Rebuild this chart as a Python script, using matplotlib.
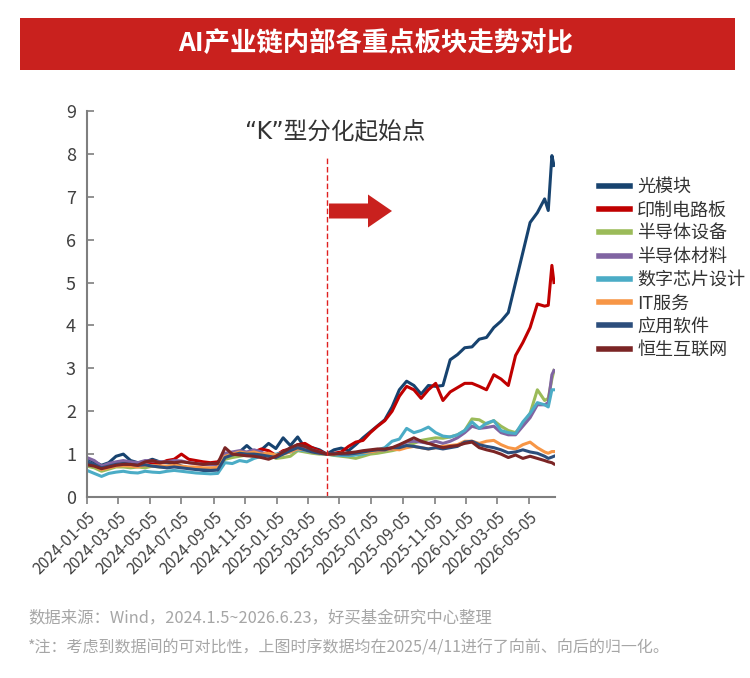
import matplotlib
matplotlib.use("Agg")
import matplotlib.pyplot as plt
import matplotlib.dates as mdates
from matplotlib.patches import Rectangle, FancyArrow
import pandas as pd

plt.rcParams['font.family'] = ['Noto Sans CJK SC', 'DejaVu Sans']

# biweekly points, last three weekly
dates = list(pd.date_range('2024-01-05', '2026-06-05', freq='14D')) + \
    [pd.Timestamp('2026-06-12'), pd.Timestamp('2026-06-19'), pd.Timestamp('2026-06-23')]

names = ['光模块', '印制电路板', '半导体设备', '半导体材料', '数字芯片设计', 'IT服务', '应用软件', '恒生互联网']
colors = ['#17436F', '#C00000', '#9BBB59', '#8064A2', '#4BACC6', '#F79646', '#2C4E7C', '#7B2525']

guangmokuai = [0.9, 0.82, 0.74, 0.8, 0.95, 1.0, 0.85, 0.8, 0.82, 0.88, 0.82, 0.8, 0.78, 0.72, 0.68, 0.66, 0.62,
               0.62, 0.64, 0.95, 1.02, 1.05, 1.2, 1.05, 1.1, 1.25, 1.13, 1.38, 1.2, 1.4, 1.15, 1.15, 1.1,
               1.0, 1.1, 1.14, 1.08, 1.22, 1.38, 1.52, 1.66, 1.8, 2.1, 2.5, 2.7, 2.6, 2.4, 2.6, 2.58, 2.6,
               3.2, 3.32, 3.48, 3.5, 3.68, 3.72, 3.95, 4.1, 4.3, 5.0, 5.7, 6.4, 6.63, 6.95, 6.68, 7.96, 7.73]
pcb = [0.78, 0.75, 0.68, 0.72, 0.76, 0.78, 0.8, 0.76, 0.82, 0.8, 0.78, 0.85, 0.88, 1.0, 0.88, 0.85, 0.82,
       0.8, 0.82, 1.0, 1.02, 0.98, 1.0, 1.05, 1.12, 1.08, 0.97, 1.08, 1.12, 1.22, 1.25, 1.15, 1.08,
       1.0, 1.02, 1.05, 1.18, 1.28, 1.32, 1.5, 1.65, 1.78, 2.0, 2.35, 2.58, 2.5, 2.3, 2.5, 2.65, 2.25,
       2.45, 2.55, 2.65, 2.65, 2.58, 2.5, 2.85, 2.75, 2.6, 3.3, 3.6, 3.95, 4.5, 4.45, 4.47, 5.4, 5.0]
semi_equip = [0.72, 0.68, 0.6, 0.65, 0.7, 0.7, 0.68, 0.7, 0.68, 0.72, 0.7, 0.7, 0.72, 0.7, 0.68, 0.66, 0.65,
              0.64, 0.66, 0.88, 0.92, 0.95, 0.98, 0.95, 0.98, 1.0, 0.9, 0.92, 0.95, 1.08, 1.05, 1.02, 1.0,
              1.0, 0.97, 0.95, 0.93, 0.9, 0.95, 1.0, 1.02, 1.05, 1.08, 1.12, 1.2, 1.25, 1.32, 1.35, 1.38, 1.37,
              1.4, 1.45, 1.55, 1.82, 1.8, 1.7, 1.78, 1.65, 1.55, 1.5, 1.7, 1.95, 2.5, 2.25, 2.3, 2.75, 2.95]
semi_mat = [0.92, 0.85, 0.72, 0.78, 0.82, 0.85, 0.82, 0.8, 0.85, 0.84, 0.82, 0.82, 0.85, 0.84, 0.8, 0.78, 0.76,
            0.75, 0.76, 1.02, 1.05, 1.08, 1.05, 1.1, 1.05, 0.95, 0.98, 1.05, 1.12, 1.2, 1.15, 1.1, 1.05,
            1.0, 1.0, 0.98, 0.97, 1.0, 1.02, 1.05, 1.08, 1.1, 1.12, 1.2, 1.28, 1.3, 1.28, 1.25, 1.3, 1.25,
            1.3, 1.38, 1.5, 1.65, 1.6, 1.62, 1.65, 1.5, 1.45, 1.45, 1.65, 1.85, 2.15, 2.15, 2.2, 2.85, 2.95]
chip_design = [0.62, 0.55, 0.48, 0.55, 0.58, 0.6, 0.57, 0.56, 0.6, 0.58, 0.57, 0.6, 0.62, 0.6, 0.58, 0.56, 0.55,
               0.54, 0.55, 0.8, 0.78, 0.85, 0.82, 0.9, 0.95, 0.97, 1.0, 1.02, 1.05, 1.1, 1.08, 1.05, 1.02,
               1.0, 0.98, 0.97, 0.96, 0.98, 1.0, 1.05, 1.1, 1.15, 1.3, 1.35, 1.6, 1.5, 1.55, 1.63, 1.5, 1.42,
               1.4, 1.45, 1.55, 1.75, 1.6, 1.72, 1.78, 1.55, 1.5, 1.48, 1.75, 1.95, 2.2, 2.15, 2.1, 2.5, 2.5]
it_service = [0.78, 0.72, 0.64, 0.68, 0.72, 0.73, 0.72, 0.7, 0.74, 0.72, 0.73, 0.72, 0.74, 0.72, 0.7, 0.7, 0.68,
              0.68, 0.69, 0.95, 1.0, 1.05, 1.02, 1.05, 1.0, 1.02, 0.98, 1.0, 1.05, 1.12, 1.1, 1.05, 1.02,
              1.0, 1.0, 1.02, 1.0, 1.02, 1.04, 1.05, 1.08, 1.1, 1.12, 1.1, 1.15, 1.18, 1.15, 1.12, 1.15, 1.18,
              1.2, 1.22, 1.3, 1.3, 1.25, 1.3, 1.32, 1.22, 1.15, 1.12, 1.22, 1.28, 1.15, 1.05, 1.02, 1.06, 1.06]
app_soft = [0.82, 0.76, 0.68, 0.72, 0.76, 0.78, 0.76, 0.74, 0.75, 0.72, 0.7, 0.68, 0.7, 0.68, 0.66, 0.64, 0.63,
            0.62, 0.63, 0.92, 0.98, 1.02, 1.0, 1.0, 0.98, 0.95, 0.92, 1.0, 1.08, 1.15, 1.1, 1.05, 1.02,
            1.0, 1.02, 1.0, 1.0, 1.02, 1.05, 1.08, 1.1, 1.1, 1.15, 1.15, 1.2, 1.18, 1.15, 1.12, 1.15, 1.12,
            1.15, 1.18, 1.28, 1.3, 1.22, 1.18, 1.15, 1.1, 1.03, 1.05, 1.1, 1.05, 1.02, 0.95, 0.9, 0.93, 0.95]
hs_internet = [0.75, 0.72, 0.66, 0.7, 0.74, 0.76, 0.76, 0.74, 0.82, 0.85, 0.8, 0.82, 0.8, 0.82, 0.8, 0.78, 0.76,
               0.78, 0.78, 1.15, 1.0, 0.98, 0.96, 0.95, 0.92, 0.88, 0.95, 1.05, 1.15, 1.22, 1.18, 1.1, 1.05,
               1.0, 1.0, 1.02, 1.03, 1.05, 1.08, 1.1, 1.12, 1.12, 1.15, 1.22, 1.3, 1.38, 1.3, 1.25, 1.2, 1.15,
               1.18, 1.2, 1.25, 1.28, 1.15, 1.1, 1.06, 1.0, 0.92, 0.98, 0.9, 0.95, 0.9, 0.85, 0.82, 0.8, 0.77]

series = [guangmokuai, pcb, semi_equip, semi_mat, chip_design, it_service, app_soft, hs_internet]

tick_dates = pd.date_range('2024-01-01', '2026-05-01', freq='2MS') + pd.Timedelta(days=4)
split_date = pd.Timestamp('2025-04-11')

fig = plt.figure(figsize=(7.5, 6.78), dpi=100)
fig.patch.set_facecolor('white')

# title banner
fig.patches.append(Rectangle((20 / 750, 1 - 70 / 678), 715 / 750, 52 / 678, transform=fig.transFigure,
                             facecolor='#C9211E', edgecolor='none'))
fig.text(376 / 750, 1 - 44 / 678, 'AI产业链内部各重点板块走势对比', color='white', fontsize=19,
         fontweight='bold', ha='center', va='center')

ax = fig.add_axes([87 / 750, 1 - 497 / 678, 468 / 750, 386 / 678])
for name, vals, c in zip(names, series, colors):
    ax.plot(dates, vals, color=c, lw=2.2, label=name)

ax.axvline(split_date, ymin=0, ymax=0.88, color='#E02020', lw=1, ls=(0, (4, 2)))

ax.set_ylim(0, 9)
ax.set_yticks(range(10))
ax.set_xlim(pd.Timestamp('2024-01-05'), pd.Timestamp('2026-06-25'))
ax.set_xticks(tick_dates)
ax.xaxis.set_major_formatter(mdates.DateFormatter('%Y-%m-%d'))
plt.setp(ax.get_xticklabels(), rotation=45, ha='right', rotation_mode='anchor')
ax.tick_params(axis='x', direction='out', length=5, width=1.2, colors='#7F7F7F', labelcolor='#404040',
               labelsize=11.3)
ax.tick_params(axis='y', direction='in', length=5, width=1.2, colors='#7F7F7F', labelcolor='#404040',
               labelsize=13, pad=8)
for s in ['top', 'right']:
    ax.spines[s].set_visible(False)
for s in ['left', 'bottom']:
    ax.spines[s].set_color('#7F7F7F')
    ax.spines[s].set_linewidth(1.5)

fig.text(335 / 750, 1 - 131 / 678, '“K”型分化起始点', fontsize=17, color='#333333', ha='center', va='center',
         family=['DejaVu Sans', 'Noto Sans CJK SC'])

fig.patches.append(FancyArrow(329 / 750, 1 - 211 / 678, 63 / 750, 0, width=15 / 678, head_width=33 / 678,
                              head_length=24 / 750, length_includes_head=True, transform=fig.transFigure,
                              color='#C9211E', lw=0))

leg = fig.legend(loc='upper left', bbox_to_anchor=(583 / 750, 1 - 162 / 678), frameon=False, fontsize=13,
                 handlelength=1.7, handletextpad=0.4, labelspacing=0.29, labelcolor='#333333')
for h in leg.get_lines():
    h.set_linewidth(4)

fig.text(28 / 750, 1 - 618 / 678, '数据来源：Wind，2024.1.5~2026.6.23，好买基金研究中心整理', fontsize=11.8,
         color='#A6A6A6', va='center')
fig.text(28 / 750, 1 - 648 / 678, '*注：考虑到数据间的可对比性，上图时序数据均在2025/4/11进行了向前、向后的归一化。',
         fontsize=11.5, color='#A6A6A6', va='center')

fig.savefig('out.png', dpi=100, facecolor='white')
